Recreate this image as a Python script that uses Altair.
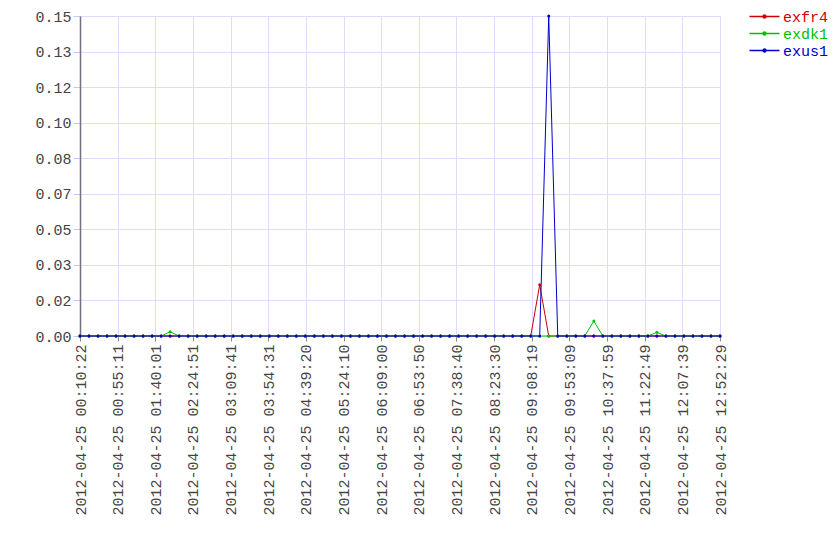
import altair as alt
import pandas as pd

# ---- data ----
start_time = "2012-04-25T00:10:22Z"
end_time = "2012-04-25T12:52:29Z"
n_points = 72

series_names = ["exfr4", "exdk1", "exus1"]
series_colors = ["#cc0000", "#00c000", "#0000cc"]

exfr4 = [
    0, 0, 0, 0, 0, 0, 0, 0, 0, 0, 0, 0,
    0, 0, 0, 0, 0, 0, 0, 0, 0, 0, 0, 0,
    0, 0, 0, 0, 0, 0, 0, 0, 0, 0, 0, 0,
    0, 0, 0, 0, 0, 0, 0, 0, 0, 0, 0, 0,
    0, 0, 0, 0.024, 0, 0, 0, 0, 0, 0, 0, 0,
    0, 0, 0, 0, 0, 0, 0, 0, 0, 0, 0, 0,
]
exdk1 = [
    0, 0, 0, 0, 0, 0, 0, 0, 0, 0, 0.002, 0,
    0, 0, 0, 0, 0, 0, 0, 0, 0, 0, 0, 0,
    0, 0, 0, 0, 0, 0, 0, 0, 0, 0, 0, 0,
    0, 0, 0, 0, 0, 0, 0, 0, 0, 0, 0, 0,
    0, 0, 0, 0, 0, 0, 0, 0, 0, 0.007, 0, 0,
    0, 0, 0, 0, 0.0017, 0, 0, 0, 0, 0, 0, 0,
]
exus1 = [
    0, 0, 0, 0, 0, 0, 0, 0, 0, 0, 0, 0,
    0, 0, 0, 0, 0, 0, 0, 0, 0, 0, 0, 0,
    0, 0, 0, 0, 0, 0, 0, 0, 0, 0, 0, 0,
    0, 0, 0, 0, 0, 0, 0, 0, 0, 0, 0, 0,
    0, 0, 0, 0, 0.15, 0, 0, 0, 0, 0, 0, 0,
    0, 0, 0, 0, 0, 0, 0, 0, 0, 0, 0, 0,
]

# ---- build table ----
times = pd.date_range(start_time, end_time, periods=n_points)
time_str = [t.strftime("%Y-%m-%dT%H:%M:%S.%fZ") for t in times]
rows = []
for name, vals in zip(series_names, [exfr4, exdk1, exus1]):
    for t, v in zip(time_str, vals):
        rows.append({"time": t, "series": name, "value": v})
df = pd.DataFrame(rows)

t0 = pd.Timestamp(start_time)
t1 = pd.Timestamp(end_time)
t0_ms = t0.value // 10**6
t1_ms = t1.value // 10**6
n_xticks = 18
x_ticks = [t0_ms + (t1_ms - t0_ms) * k / (n_xticks - 1) for k in range(n_xticks)]
y_max = 0.15
y_ticks = [y_max * k / 9 for k in range(10)]

FONT = "Liberation Mono"
FS = 15
TXT = "#444444"
GRID = "#dcdcff"

color_scale = alt.Scale(domain=series_names, range=series_colors)

chart = (
    alt.Chart(df)
    .mark_line(strokeWidth=1, point=alt.OverlayMarkDef(filled=True, size=9, opacity=1))
    .encode(
        x=alt.X(
            "time:T",
            scale=alt.Scale(type="utc", domain=[t0_ms, t1_ms], nice=False),
            axis=alt.Axis(
                title=None,
                values=x_ticks,
                labelExpr="utcFormat(datum.value, '%Y-%m-%d %H:%M:%S')",
                labelAngle=270,
                labelAlign="right",
                labelBaseline="middle",
                labelFont=FONT,
                labelFontSize=FS,
                labelColor=TXT,
                labelPadding=3,
                tickSize=5,
                tickColor="#888888",
                domain=False,
                grid=True,
                gridColor=GRID,
                labelOverlap=False,
                labelFlush=False,
            ),
        ),
        y=alt.Y(
            "value:Q",
            scale=alt.Scale(domain=[0, y_max], nice=False, zero=True),
            axis=alt.Axis(
                title=None,
                values=y_ticks,
                format=".2f",
                labelFont=FONT,
                labelFontSize=FS,
                labelColor=TXT,
                labelPadding=2,
                tickSize=7,
                tickColor="#c8c8f0",
                domainColor="#707080",
                domainWidth=1.5,
                grid=True,
                gridColor=GRID,
                minExtent=72,
                maxExtent=72,
                labelOverlap=False,
                labelFlush=False,
            ),
        ),
        color=alt.Color(
            "series:N",
            scale=color_scale,
            sort=series_names,
            legend=alt.Legend(
                title=None,
                orient="none",
                legendX=676,
                legendY=-8,
                padding=0,
                symbolType="M-2,0L2,0M-0.2,0A0.2,0.2,0,1,1,0.2,0A0.2,0.2,0,1,1,-0.2,0Z",
                symbolSize=225,
                symbolStrokeWidth=1.5,
                symbolFillColor={"expr": "scale('color', datum.value)"},
                labelColor={"expr": "scale('color', datum.value)"},
                labelFont=FONT,
                labelFontSize=FS,
                labelOffset=10,
                rowPadding=-1,
            ),
        ),
    )
    .properties(width=640, height=320, padding={"left": 0, "top": 0, "right": 0, "bottom": 0})
    .configure_view(stroke=None)
    .configure(background="white")
)

chart.save("out.html", embed_options={"renderer": "svg", "actions": False})
